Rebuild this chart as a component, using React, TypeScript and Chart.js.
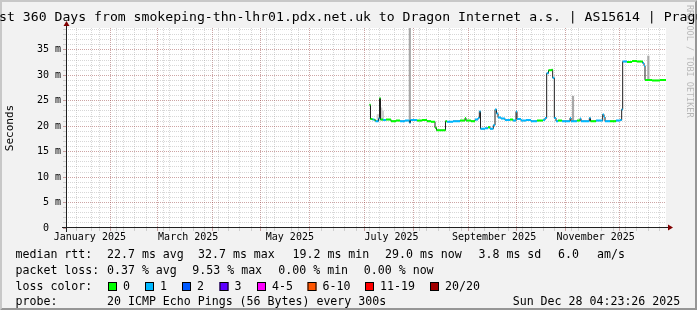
import React, { useEffect, useRef } from 'react';
import { Chart, registerables } from 'chart.js';

Chart.register(...registerables);

const FONT = "'DejaVu Sans Mono', 'Liberation Mono', monospace";

const TITLE = 'Last 360 Days from smokeping-thn-lhr01.pdx.net.uk to Dragon Internet a.s. | AS15614 | Prague';
const Y_UNIT_LABEL = 'Seconds';
const WATERMARK = 'RRDTOOL / TOBI OETIKER';

// x axis: days since range start 2025-01-02 04:23:26, range 360 days
const RANGE_START = Date.UTC(2025, 0, 2, 4, 23, 26);
const RANGE_DAYS = 360;
const Y_MAX = 39.3; // ms

const monthLabels = ['January 2025', 'March 2025', 'May 2025', 'July 2025', 'September 2025', 'November 2025'];
const monthLabelMonths = [0, 2, 4, 6, 8, 10];
const gridMonthStarts = [1, 2, 3, 4, 5, 6, 7, 8, 9, 10, 11];
const firstSunday = 5; // 2025-01-05

// median rtt (ms) per time step, with loss colour class
const medianDays = [182.1, 182.7, 183.9, 185.1, 185.7, 187.5, 188.1, 188.7, 190.2, 192.0,
  195.0, 198.0, 200.4, 203.4, 206.1, 206.7, 210.6, 213.6, 216.6, 219.0,
  221.4, 222.3, 227.7, 228.6, 232.2, 236.4, 239.4, 240.0, 243.0, 245.4,
  247.2, 248.0, 248.7, 251.4, 253.2, 254.4, 256.4, 257.4, 258.3, 259.2,
  261.0, 263.4, 266.4, 268.2, 270.0, 270.6, 273.0, 276.0, 279.0, 282.6,
  286.2, 287.4, 288.4, 289.5, 291.4, 292.0, 293.0, 294.0, 295.2, 297.6,
  302.4, 303.0, 306.6, 308.4, 309.0, 314.0, 314.7, 318.0, 322.0, 322.8,
  323.4, 326.4, 330.0, 332.4, 333.4, 334.0, 336.6, 339.6, 342.6, 346.0,
  346.8, 347.4, 351.6, 356.4, 360.0];
const medianMs = [24.2, 21.4, 21.3, 21.2, 21.0, 21.5, 25.5, 21.3, 21.2, 21.3,
  21.0, 21.1, 21.0, 21.1, 20.7, 21.2, 21.1, 21.2, 21.0, 20.9,
  19.7, 19.2, 21.0, 20.9, 21.0, 21.1, 21.6, 21.1, 21.0, 21.3,
  21.6, 22.9, 19.5, 19.6, 19.8, 19.5, 20.2, 23.3, 22.5, 21.7,
  21.5, 21.2, 21.3, 21.1, 22.9, 21.4, 21.1, 21.2, 21.0, 21.1,
  21.2, 21.6, 30.4, 31.0, 31.1, 29.5, 21.6, 21.0, 21.1, 21.0,
  21.6, 21.0, 21.1, 21.5, 21.0, 21.6, 21.0, 21.1, 22.3, 21.8,
  21.0, 21.0, 21.1, 21.2, 23.3, 32.7, 32.6, 32.8, 32.7, 32.4,
  31.9, 29.1, 29.0, 29.1, 29.0];
const medianLoss = [0, 0, 1, 0, 1, 1, 0, 0, 1, 0,
  0, 0, 1, 1, 1, 1, 0, 0, 0, 0,
  0, 0, 0, 1, 1, 0, 0, 0, 0, 1,
  1, 1, 1, 1, 0, 1, 1, 1, 1, 1,
  1, 1, 0, 1, 1, 1, 1, 1, 1, 0,
  1, 1, 1, 0, 0, 1, 1, 1, 0, 1,
  1, 1, 0, 1, 1, 1, 0, 1, 1, 1,
  1, 0, 1, 1, 1, 1, 0, 0, 0, 1,
  1, 0, 0, 0, 0];

// smoke (min..max ping spread)
const darkSmokeDays = [206.3, 304.2, 349.4];
const darkSmokeLow = [20.7, 21.0, 29.0];
const darkSmokeHigh = [40.0, 25.9, 33.8];
const lightSmokeDays = [187.2, 189.0, 190.0];
const lightSmokeLow = [21.0, 21.2, 21.2];
const lightSmokeHigh = [22.3, 23.6, 23.0];

// legend texts
const rttStats = ['22.7 ms avg', '32.7 ms max', '19.2 ms min', '29.0 ms now', '3.8 ms sd', '6.0', 'am/s'];
const lossStats = ['0.37 % avg', '9.53 % max', '0.00 % min', '0.00 % now'];
const lossLabels = ['0', '1', '2', '3', '4-5', '6-10', '11-19', '20/20'];
const lossColors = ['#00ff00', '#00b8ff', '#0059ff', '#5e00ff', '#ff00ff', '#ff5500', '#ff0000', '#a10000'];
const probeText = '20 ICMP Echo Pings (56 Bytes) every 300s';
const stampText = 'Sun Dec 28 04:23:26 2025';

const GRID = 'rgba(140,140,140,0.35)';
const MGRID = 'rgba(130,30,30,0.4)';

const dayOf = (m: number, d: number) => (Date.UTC(2025, m, d) - RANGE_START) / 86400000;

function buildXTicks() {
  const kinds = new Map<number, string>();
  const labels = new Map<number, string>();
  const majors = gridMonthStarts.map((m) => dayOf(m, 1));
  majors.forEach((v) => kinds.set(v, 'major'));
  for (let d = dayOf(0, firstSunday); d <= RANGE_DAYS; d += 7) {
    if (!majors.some((v) => Math.abs(v - d) < 0.01)) kinds.set(d, 'minor');
  }
  monthLabelMonths.forEach((m, i) => {
    const v = (dayOf(m, 1) + dayOf(m + 1, 1)) / 2;
    kinds.set(v, 'label');
    labels.set(v, monthLabels[i]);
  });
  return { kinds, labels };
}

function lossSegments(level: number) {
  const pts: { x: number; y: number | null }[] = [];
  for (let i = 0; i < medianDays.length - 1; i++) {
    if (medianLoss[i] === level) {
      pts.push({ x: medianDays[i], y: medianMs[i] });
      pts.push({ x: medianDays[i + 1], y: medianMs[i] });
      pts.push({ x: medianDays[i + 1], y: null });
    }
  }
  return pts;
}

const decorPlugin = {
  id: 'rrdDecor',
  beforeDraw(chart: any) {
    const { ctx, width, height, chartArea: a } = chart;
    ctx.save();
    ctx.fillStyle = '#f2f2f2';
    ctx.fillRect(0, 0, width, height);
    ctx.fillStyle = '#c8c8c8';
    ctx.beginPath();
    ctx.moveTo(0, height); ctx.lineTo(2, height - 2); ctx.lineTo(2, 2);
    ctx.lineTo(width - 2, 2); ctx.lineTo(width, 0); ctx.lineTo(0, 0);
    ctx.closePath(); ctx.fill();
    ctx.fillStyle = '#969696';
    ctx.beginPath();
    ctx.moveTo(2, height - 2); ctx.lineTo(width - 2, height - 2); ctx.lineTo(width - 2, 2);
    ctx.lineTo(width, 0); ctx.lineTo(width, height); ctx.lineTo(0, height);
    ctx.closePath(); ctx.fill();
    ctx.fillStyle = '#ffffff';
    ctx.fillRect(a.left, a.top, a.right - a.left, a.bottom - a.top);
    ctx.restore();
  },
  afterDatasetsDraw(chart: any) {
    const { ctx, chartArea: a } = chart;
    const x0 = a.left + 0.5;
    const y0 = a.bottom - 0.5;
    ctx.save();
    ctx.strokeStyle = '#202020';
    ctx.lineWidth = 1;
    ctx.beginPath();
    ctx.moveTo(a.left - 4, y0); ctx.lineTo(a.right + 4, y0);
    ctx.moveTo(x0, a.bottom + 4); ctx.lineTo(x0, a.top - 4);
    ctx.stroke();
    ctx.fillStyle = '#800000';
    ctx.beginPath();
    ctx.moveTo(a.right + 2, y0 - 3); ctx.lineTo(a.right + 2, y0 + 3); ctx.lineTo(a.right + 7, y0);
    ctx.closePath(); ctx.fill();
    ctx.beginPath();
    ctx.moveTo(x0 - 3, a.top - 2); ctx.lineTo(x0 + 3, a.top - 2); ctx.lineTo(x0, a.top - 7);
    ctx.closePath(); ctx.fill();
    ctx.restore();
  },
  afterDraw(chart: any) {
    const { ctx } = chart;
    ctx.save();
    ctx.fillStyle = '#000';
    ctx.textAlign = 'left';
    ctx.textBaseline = 'alphabetic';
    ctx.font = `13.15px ${FONT}`;
    ctx.fillText(TITLE, -16.7, 21);

    ctx.save();
    ctx.font = `11px ${FONT}`;
    ctx.translate(10, 128);
    ctx.rotate(-Math.PI / 2);
    ctx.textAlign = 'center';
    ctx.textBaseline = 'middle';
    ctx.fillText(Y_UNIT_LABEL, 0, 0);
    ctx.restore();

    ctx.save();
    ctx.font = `8.5px ${FONT}`;
    ctx.fillStyle = 'rgba(0,0,0,0.25)';
    ctx.translate(693, 5);
    ctx.rotate(Math.PI / 2);
    ctx.textBaseline = 'top';
    ctx.fillText(WATERMARK, 0, 0);
    ctx.restore();

    ctx.font = `11.6px ${FONT}`;
    ctx.textBaseline = 'middle';
    const rows = [254.5, 271, 286.5, 301.5];
    ctx.fillText('median rtt:', 15.5, rows[0]);
    const rttX = [107, 198, 292.5, 385, 478.5, 558, 597];
    rttStats.forEach((t, i) => ctx.fillText(t, rttX[i], rows[0]));
    ctx.fillText('packet loss:', 15.5, rows[1]);
    const lossX = [107, 192.3, 278.3, 363.8];
    lossStats.forEach((t, i) => ctx.fillText(t, lossX[i], rows[1]));
    ctx.fillText('loss color:', 15.5, rows[2]);
    const boxX = [108, 145, 182, 219.5, 257, 307.5, 365, 430];
    lossLabels.forEach((t, i) => {
      ctx.fillStyle = lossColors[i];
      ctx.fillRect(boxX[i], rows[2] - 4.5, 9, 9);
      ctx.strokeStyle = '#000';
      ctx.lineWidth = 1;
      ctx.strokeRect(boxX[i] + 0.5, rows[2] - 4, 8, 8);
      ctx.fillStyle = '#000';
      ctx.fillText(t, boxX[i] + 15, rows[2]);
    });
    ctx.fillText('probe:', 15.5, rows[3]);
    ctx.fillText(probeText, 107, rows[3]);
    ctx.fillText(stampText, 512.7, rows[3]);
    ctx.restore();
  },
};

export default function App() {
  const ref = useRef<HTMLCanvasElement>(null);
  useEffect(() => {
    const canvas = ref.current;
    if (!canvas) return;
    const { kinds, labels } = buildXTicks();
    const tickFont = { family: FONT, size: 10, lineHeight: 1 };

    const chart = new Chart(canvas, {
      type: 'line',
      data: {
        datasets: [
          {
            label: 'loss 0',
            data: lossSegments(0),
            borderColor: lossColors[0],
            borderWidth: 2,
            pointRadius: 0,
            spanGaps: false,
            borderCapStyle: 'butt',
            order: 0,
          } as any,
          {
            label: 'loss 1',
            data: lossSegments(1),
            borderColor: lossColors[1],
            borderWidth: 2,
            pointRadius: 0,
            spanGaps: false,
            borderCapStyle: 'butt',
            order: 1,
          } as any,
          {
            label: 'median',
            data: medianDays.map((d, i) => ({ x: d, y: medianMs[i] })),
            borderColor: '#202020',
            borderWidth: 1,
            pointRadius: 0,
            stepped: true,
            order: 2,
          } as any,
          {
            type: 'bar',
            label: 'smoke',
            data: darkSmokeDays.map((d, i) => ({ x: d, y: [darkSmokeLow[i], darkSmokeHigh[i]] })),
            backgroundColor: '#a8a8a8',
            borderWidth: 0,
            barThickness: 1.5,
            grouped: false,
            order: 3,
          } as any,
          {
            type: 'bar',
            label: 'smoke light',
            data: lightSmokeDays.map((d, i) => ({ x: d, y: [lightSmokeLow[i], lightSmokeHigh[i]] })),
            backgroundColor: '#cfcfcf',
            borderWidth: 0,
            barThickness: 2,
            grouped: false,
            order: 4,
          } as any,
        ],
      },
      options: {
        animation: false,
        responsive: false,
        maintainAspectRatio: false,
        devicePixelRatio: 1,
        layout: { padding: { left: 0, right: 31, top: 28, bottom: 0 } },
        plugins: {
          legend: { display: false },
          tooltip: { enabled: false },
          title: { display: false },
        },
        scales: {
          x: {
            type: 'linear',
            min: 0,
            max: RANGE_DAYS,
            offset: false,
            afterFit: (s: any) => { s.height = 82; },
            afterBuildTicks: (s: any) => {
              s.ticks = Array.from(kinds.keys()).sort((p, q) => p - q).map((v) => ({ value: v }));
            },
            grid: {
              color: (c: any) => {
                const k = kinds.get(c.tick?.value);
                return k === 'major' ? MGRID : k === 'minor' ? GRID : 'rgba(0,0,0,0)';
              },
              tickColor: (c: any) => {
                const k = kinds.get(c.tick?.value);
                return k === 'major' ? MGRID : k === 'minor' ? GRID : 'rgba(0,0,0,0)';
              },
              lineWidth: 1,
              tickLength: 3,
              tickWidth: 1,
              tickBorderDash: [],
            },
            border: { display: false, dash: [1, 1] },
            ticks: {
              autoSkip: false,
              maxRotation: 0,
              minRotation: 0,
              padding: 1.5,
              color: '#000',
              font: tickFont,
              callback: (v: any) => labels.get(v) ?? '',
            },
          },
          y: {
            type: 'linear',
            min: 0,
            max: Y_MAX,
            afterFit: (s: any) => { s.width = 66; },
            afterBuildTicks: (s: any) => {
              s.ticks = Array.from({ length: 40 }, (_, i) => ({ value: i }));
            },
            grid: {
              color: (c: any) => {
                const v = c.tick?.value;
                if (v === 0) return 'rgba(0,0,0,0)';
                return v % 5 === 0 ? MGRID : GRID;
              },
              tickColor: (c: any) => (c.tick?.value % 5 === 0 ? MGRID : GRID),
              lineWidth: 1,
              tickLength: 3,
              tickWidth: 1,
              tickBorderDash: [],
            },
            border: { display: false, dash: [1, 1] },
            ticks: {
              autoSkip: false,
              padding: 2,
              color: '#000',
              font: tickFont,
              callback: (v: any) => (v % 5 === 0 ? (v === 0 ? '0  ' : `${v} m`) : ''),
            },
          },
        },
      } as any,
      plugins: [decorPlugin],
    });
    return () => chart.destroy();
  }, []);

  return (
    <div style={{ position: 'absolute', left: 0, top: 0, width: 697, height: 310 }}>
      <canvas ref={ref} width={697} height={310} style={{ display: 'block', width: 697, height: 310 }} />
    </div>
  );
}
